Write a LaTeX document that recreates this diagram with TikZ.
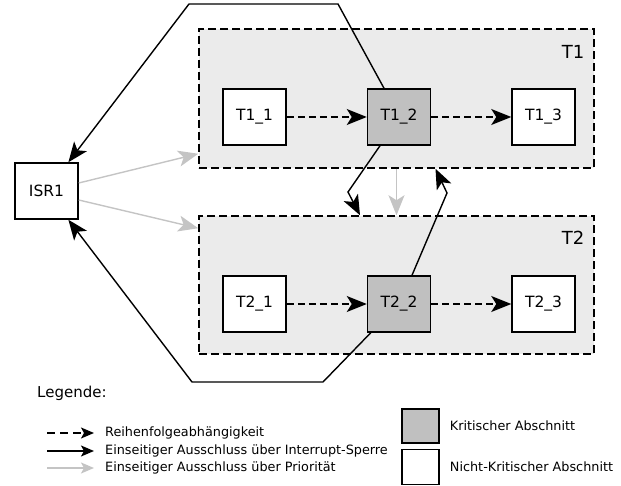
\documentclass[tikz,border=0pt]{standalone}
\usepackage{fontspec}
\setmainfont{DejaVu Sans}
\usepackage{tikz}
\usetikzlibrary{arrows.meta, positioning}
\definecolor{critGray}{HTML}{C0C0C0}
\definecolor{groupGray}{HTML}{EBEBEB}
\definecolor{prioGray}{HTML}{C4C4C4}
\tikzstyle{task} = [rectangle, draw, line width=1.5pt, fill=white, inner sep=0pt,
  minimum width=63pt, minimum height=56pt, font=\fontsize{15.5}{18}\selectfont]
\tikzstyle{critical} = [task, fill=critGray]
\tikzstyle{seqArrow} = [draw, dash pattern=on 7pt off 4pt, line width=1.5pt,
  -{Stealth[length=20pt,width=16pt,inset=5pt]}]
\tikzstyle{irqArrow} = [draw, line width=1.4pt, line join=miter,
  -{Stealth[length=20pt,width=16pt,inset=5pt]}]
\tikzstyle{prioArrow} = [draw, color=prioGray, line width=1.4pt,
  -{Stealth[length=20pt,width=16pt,inset=5pt]}]
\tikzstyle{legendText} = [anchor=west, inner sep=0pt, font=\fontsize{12.8}{15}\selectfont]

\begin{document}
\begin{tikzpicture}[x=1pt, y=-1pt]
    \useasboundingbox (0,0) rectangle (621,486);

    \tikzset{group box/.style={draw=black, dash pattern=on 8pt off 4pt,
      fill=groupGray, line width=1.5pt, rectangle, minimum width=395pt}};

    \node [group box, minimum height=139pt] (t1) at (396.5,98.5) {};
    \node [group box, minimum height=138pt] (t2) at (396.5,285) {};
    \node [font=\fontsize{18}{21}\selectfont] (t1Label) at (573,52) {T1};
    \node [font=\fontsize{18}{21}\selectfont] (t2Label) at (573,238) {T2};

    \node [task] (isr1) at (46.5,191) {ISR1};
    \node [task] (t11) at (254.5,117) {T1\_1};
    \node [critical, right=80pt of t11] (t12) {T1\_2};
    \node [task, right=80pt of t12] (t13) {T1\_3};
    \node [task] (t21) at (254.5,304) {T2\_1};
    \node [critical, right=80pt of t21] (t22) {T2\_2};
    \node [task, right=80pt of t22] (t23) {T2\_3};

    \path [seqArrow] (t11) -- (t12);
    \path [seqArrow] (t12) -- (t13);
    \path [seqArrow] (t21) -- (t22);
    \path [seqArrow] (t22) -- (t23);

    \path [irqArrow] ([xshift=-15pt]t12.north) -- (338,4) -- (189,4) -- (isr1);
    \path [irqArrow] ([xshift=4pt]t22.south west) -- (323,382) -- (192,382) -- (isr1);
    \path [irqArrow] ([xshift=-19pt]t12.south) -- (348,192) -- ([xshift=-36.5pt]t2.north);
    \path [irqArrow] ([xshift=13pt]t22.north) -- (447,193) -- ([xshift=39pt]t1.south);

    \path [prioArrow] ([yshift=8pt]isr1.east) -- ([yshift=15pt]t1.south west);
    \path [prioArrow] ([yshift=-9pt]isr1.east) -- ([yshift=-13pt]t2.north west);
    \path [prioArrow] (t1.south) -- (t2.north);

    % Legende
    \node [anchor=west, inner sep=0pt, font=\fontsize{15}{18}\selectfont] (legend) at (37,393) {Legende:};
    \coordinate (seqStart) at (47,433);
    \coordinate (seqEnd) at (94,433);
    \coordinate (irqStart) at (47,451);
    \coordinate (irqEnd) at (94,451);
    \coordinate (prioStart) at (47,468);
    \coordinate (prioEnd) at (94,468);
    \path [seqArrow, dash pattern=on 8pt off 5pt, -{Stealth[length=13pt,width=11pt,inset=3pt]}] (seqStart) -- (seqEnd);
    \path [irqArrow, -{Stealth[length=13pt,width=11pt,inset=3pt]}] (irqStart) -- (irqEnd);
    \path [prioArrow, -{Stealth[length=13pt,width=11pt,inset=3pt]}] (prioStart) -- (prioEnd);
    \node [legendText] (seqText) at (105,433) {Reihenfolgeabhängigkeit};
    \node [legendText] (irqText) at (105,451) {Einseitiger Ausschluss über Interrupt-Sperre};
    \node [legendText] (prioText) at (105,468) {Einseitiger Ausschluss über Priorität};

    \node [critical, minimum width=37pt, minimum height=34pt] (legCrit) at (420.5,426) {};
    \node [task, minimum width=37pt, minimum height=35pt] (legNormal) at (420.5,467) {};
    \node [legendText, right=10pt of legCrit] (critText) {Kritischer Abschnitt};
    \node [legendText, right=10pt of legNormal] (normalText) {Nicht-Kritischer Abschnitt};
\end{tikzpicture}
\end{document}
